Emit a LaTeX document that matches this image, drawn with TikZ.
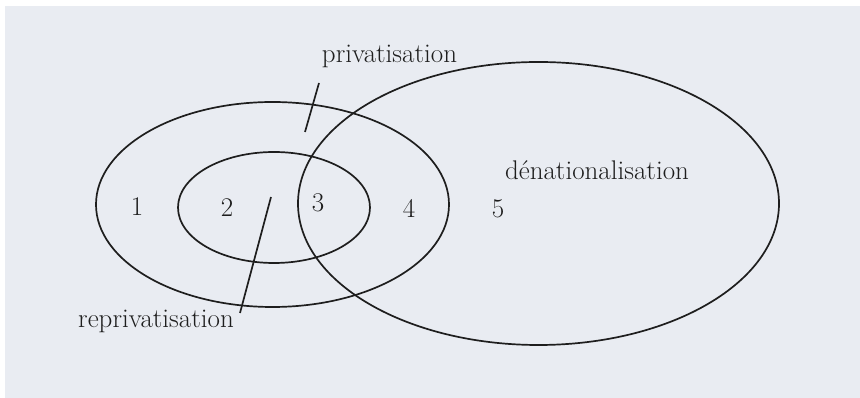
\documentclass[tikz,border=0pt]{standalone}
\usepackage{xcolor}
\usepackage{tikz}
\usetikzlibrary{shapes.geometric,positioning}

\definecolor{paper}{HTML}{E9ECF2}
\definecolor{ink}{HTML}{1E1E1E}

\begin{document}
\begin{tikzpicture}[
  x=1pt, y=1pt,
  ring/.style={draw=ink, line width=1.7pt, ellipse, inner sep=0pt},
  num/.style={font=\fontsize{27}{30}\selectfont, text=ink},
  lbl/.style={font=\fontsize{27}{30}\selectfont, text=ink, anchor=base},
  ptr/.style={draw=ink, line width=1.7pt}
]

\useasboundingbox (0,0) rectangle (860,398);
\fill[white] (0,0) rectangle (860,398);
\fill[paper] (5,0) rectangle (860,392);

% the three sets
\node[ring, minimum width=353pt, minimum height=205pt] (priv) at (272.5,193.5) {};
\node[ring, minimum width=192pt, minimum height=111pt] (repriv) at (274,190.5) {};
\node[ring, minimum width=481pt, minimum height=283pt] (denat) at (538.5,194.5) {};

% zones
\node[num] (z1) at (137,191) {1};
\node[num] (z2) at (227,190) {2};
\node[num] (z3) at (318,195) {3};
\node[num] (z4) at (409,190) {4};
\node[num] (z5) at (498,189) {5};

% names
\node[lbl] (privname) at (389.5,335) {privatisation};
\node[lbl] (denatname) at (597,218) {dénationalisation};
\node[lbl] (reprivname) at (156,70) {reprivatisation};

\coordinate (privtop) at (319,315);
\coordinate (privend) at (305,266);
\coordinate (reprivtop) at (271,201);
\coordinate (reprivend) at (240,85);

\draw[ptr] (privtop) -- (privend);
\draw[ptr] (reprivtop) -- (reprivend);

\end{tikzpicture}
\end{document}
